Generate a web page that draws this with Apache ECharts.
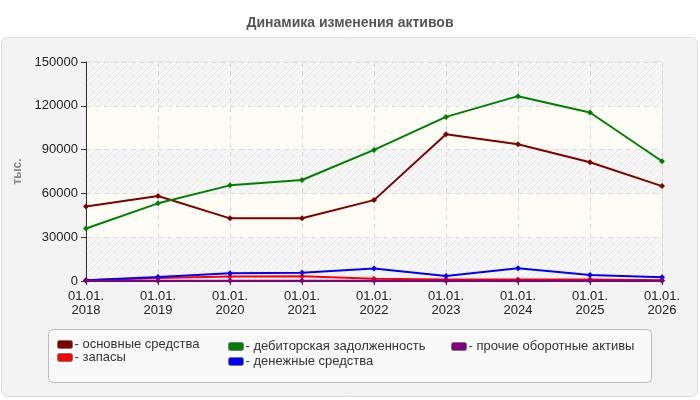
<!DOCTYPE html>
<html>
<head>
<meta charset="utf-8">
<script src="https://cdn.jsdelivr.net/npm/echarts@6/dist/echarts.min.js"></script>
<style>
  html, body { margin: 0; padding: 0; background: #fff; }
  #chart { width: 700px; height: 400px; }
</style>
</head>
<body>
<div id="chart"></div>
<script>
// даты отчётности
const periods = ["01.01.\n2018", "01.01.\n2019", "01.01.\n2020", "01.01.\n2021", "01.01.\n2022",
  "01.01.\n2023", "01.01.\n2024", "01.01.\n2025", "01.01.\n2026"];

// значения, тыс.
const fixedAssets = [51000, 58200, 42900, 43000, 55400, 100500, 93700, 81300, 65000];
const inventory = [500, 2000, 3000, 3200, 1500, 1000, 1000, 1000, 500];
const receivables = [36000, 53200, 65500, 69200, 89800, 112400, 126600, 115400, 82000];
const cash = [500, 2700, 5300, 5600, 8500, 3400, 8700, 4100, 2500];
const otherAssets = [200, 200, 200, 200, 200, 200, 200, 200, 200];

const yTicks = { min: 0, max: 150000, interval: 30000 };

const seriesNames = ["основные средства", "запасы", "дебиторская задолженность", "денежные средства", "прочие оборотные активы"];
const seriesColors = ["#800000", "#ff0000", "#008000", "#0000ff", "#800080"];
const seriesData = [fixedAssets, inventory, receivables, cash, otherAssets];

// штриховка фона
const hatch = document.createElement("canvas");
hatch.width = 6;
hatch.height = 6;
const hctx = hatch.getContext("2d");
hctx.fillStyle = "#f7f7f7";
hctx.fillRect(0, 0, 6, 6);
hctx.strokeStyle = "#e6e6e6";
hctx.lineWidth = 1;
hctx.beginPath();
hctx.moveTo(0, 6); hctx.lineTo(6, 0);
hctx.moveTo(-3, 3); hctx.lineTo(3, -3);
hctx.moveTo(3, 9); hctx.lineTo(9, 3);
hctx.stroke();

const chart = echarts.init(document.getElementById("chart"));

// позиции легенды
const legendPos = [
  { left: 57, top: 338 },
  { left: 57, top: 351 },
  { left: 228, top: 340 },
  { left: 228, top: 355 },
  { left: 451, top: 340 }
];

const legends = seriesNames.map((name, i) => ({
  data: [name],
  left: legendPos[i].left,
  top: legendPos[i].top,
  padding: 0,
  icon: "roundRect",
  itemWidth: 15,
  itemHeight: 8,
  itemGap: 0,
  selectedMode: false,
  formatter: "- {name}",
  textStyle: { color: "#333", fontSize: 13, fontFamily: "Liberation Sans, Arial", padding: [0, 0, 0, -3] },
  itemStyle: { borderColor: "#777", borderWidth: 1 }
}));

const option = {
  animation: false,
  backgroundColor: "#fff",
  textStyle: { fontFamily: "Liberation Sans, Arial" },
  title: {
    text: "Динамика изменения активов",
    left: "center",
    top: 11,
    textStyle: { color: "#555", fontSize: 14, fontWeight: "bold", fontFamily: "Liberation Sans, Arial" }
  },
  graphic: [
    {
      type: "rect",
      z: -10,
      shape: { x: 1.5, y: 37.5, width: 696, height: 359, r: 6 },
      style: { fill: "#f3f3f3", stroke: "#dcdcdc", lineWidth: 1 }
    },
    {
      type: "rect",
      z: -5,
      shape: { x: 48.5, y: 329.5, width: 603, height: 53, r: 4 },
      style: { fill: "#f9f9f9", stroke: "#bbbbbb", lineWidth: 1 }
    }
  ],
  legend: legends,
  grid: {
    left: 86,
    right: 38,
    top: 62,
    bottom: 119,
    show: true,
    borderColor: "#dddddd",
    borderWidth: 1,
    backgroundColor: "transparent"
  },
  xAxis: {
    type: "category",
    boundaryGap: false,
    data: periods,
    axisLine: { lineStyle: { color: "#333", width: 1 } },
    axisTick: { show: true, length: 4, lineStyle: { color: "#333" } },
    axisLabel: { color: "#222", fontSize: 13, lineHeight: 14, margin: 8, interval: 0 },
    splitLine: { show: true, lineStyle: { color: "#d8d8d8", type: [5, 4] } }
  },
  yAxis: {
    type: "value",
    min: yTicks.min,
    max: yTicks.max,
    interval: yTicks.interval,
    name: "тыс.",
    nameLocation: "middle",
    nameRotate: 90,
    nameGap: 57,
    nameTextStyle: { color: "#888", fontSize: 12, fontWeight: "bold" },
    axisLine: { show: true, lineStyle: { color: "#333", width: 1 } },
    axisTick: { show: true, length: 5, lineStyle: { color: "#333" } },
    axisLabel: { color: "#222", fontSize: 13, margin: 8, formatter: (v) => String(v) },
    splitLine: { show: true, lineStyle: { color: "#dcdcdc", type: [5, 4] } },
    splitArea: {
      show: true,
      areaStyle: { color: [{ image: hatch, repeat: "repeat" }, "#fdfdf6"] }
    }
  },
  series: seriesNames.map((name, i) => ({
    name: name,
    type: "line",
    data: seriesData[i],
    symbol: "diamond",
    symbolSize: 6,
    lineStyle: { width: 2, color: seriesColors[i] },
    itemStyle: { color: seriesColors[i] },
    z: 3 + i
  }))
};

chart.setOption(option);
</script>
</body>
</html>
